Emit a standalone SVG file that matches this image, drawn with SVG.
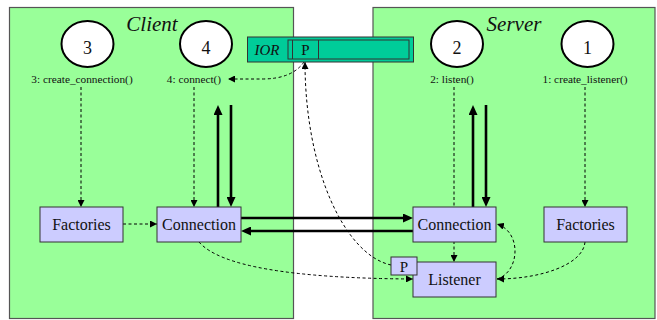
<svg xmlns="http://www.w3.org/2000/svg" width="657" height="320" viewBox="0 0 657 320">
<defs>
<marker id="ad" markerUnits="userSpaceOnUse" markerWidth="8" markerHeight="7" refX="7" refY="3.5" orient="auto"><path d="M0,0 L7,3.5 L0,7 z" fill="#000"/></marker>
<marker id="at" markerUnits="userSpaceOnUse" markerWidth="11" markerHeight="9" refX="4" refY="4.5" orient="auto"><path d="M0,0 L10,4.5 L0,9 z" fill="#000"/></marker>
</defs>
<style>
.panel{fill:#99ff99;stroke:#555;stroke-width:1.2}
.box{fill:#ccccff;stroke:#333;stroke-width:1}
.circ{fill:#fff;stroke:#000;stroke-width:2}
text{font-family:'Liberation Serif','Times New Roman','DejaVu Serif',serif;fill:#111}
.big{font-size:16px}
.num{font-size:18px}
.lab{font-size:11.3px}
.title{font-size:21px;font-style:italic}
.dash{fill:none;stroke:#000;stroke-width:1;stroke-dasharray:3,2.5;marker-end:url(#ad)}
.thick{fill:none;stroke:#000;stroke-width:2.6;marker-end:url(#at)}
</style>
<g id="client-panel"><rect class="panel" x="9.5" y="7.5" width="284" height="311"/><text class="title" font-family="Liberation Serif, serif" x="152" y="31" text-anchor="middle">Client</text></g>
<g id="server-panel"><rect class="panel" x="373" y="7.5" width="282" height="311"/><text class="title" font-family="Liberation Serif, serif" x="514" y="31" text-anchor="middle">Server</text></g>
<g id="connectors">
<path class="dash" d="M81,87 L81,207"/>
<path class="dash" d="M194,87 L194,207"/>
<path class="dash" d="M454,87 L454,262"/>
<path class="dash" d="M585,87 L585,207"/>
<path class="dash" d="M123,224 L157,224"/>
<path class="dash" d="M585,242 C583,265 540,279 497,279"/>
<path class="dash" d="M497,279 C520,272 522,232 497,224"/>
<path class="dash" d="M199,242 Q230,278 413,279"/>
<path class="dash" d="M391,265 C345,255 305,170 305,62"/>
<path class="dash" d="M304,62 Q292,79 262,79 L228,79"/>
<path class="thick" d="M218,207 L218,111"/>
<path class="thick" d="M231,105 L231,201"/>
<path class="thick" d="M473,207 L473,111"/>
<path class="thick" d="M486,105 L486,201"/>
<path class="thick" d="M241,218 L407,218"/>
<path class="thick" d="M413,231 L247,231"/>
</g>
<g id="n3"><ellipse class="circ" cx="87.5" cy="44" rx="26" ry="23"/><text class="num" x="87.5" y="54" text-anchor="middle">3</text><text class="lab" x="82" y="83" text-anchor="middle">3: create_connection()</text></g>
<g id="n4"><ellipse class="circ" cx="206" cy="44" rx="26" ry="23"/><text class="num" x="206" y="54" text-anchor="middle">4</text><text class="lab" x="194" y="83" text-anchor="middle">4: connect()</text></g>
<g id="n2"><ellipse class="circ" cx="457" cy="44" rx="26" ry="23"/><text class="num" x="457" y="54" text-anchor="middle">2</text><text class="lab" x="452" y="83" text-anchor="middle">2: listen()</text></g>
<g id="n1"><ellipse class="circ" cx="587.5" cy="44" rx="26" ry="23"/><text class="num" x="587.5" y="54" text-anchor="middle">1</text><text class="lab" x="585" y="83" text-anchor="middle">1: create_listener()</text></g>
<g id="ior"><rect x="247.5" y="37" width="166" height="25" fill="#00cc99" stroke="#333" stroke-width="1"/><rect x="288" y="40" width="121" height="19" fill="none" stroke="#333" stroke-width="1"/><line x1="292.5" y1="40" x2="292.5" y2="59" stroke="#333"/><line x1="318.5" y1="40" x2="318.5" y2="59" stroke="#333"/><text x="267" y="55" font-size="15" font-style="italic" text-anchor="middle">IOR</text><text x="305.5" y="55" font-size="15" text-anchor="middle">P</text></g>
<g id="client-factories"><rect class="box" x="40" y="207" width="83" height="35"/><text class="big" x="81.5" y="230" text-anchor="middle">Factories</text></g>
<g id="client-connection"><rect class="box" x="157" y="207" width="84" height="35"/><text class="big" x="199" y="230" text-anchor="middle">Connection</text></g>
<g id="server-connection"><rect class="box" x="413" y="207" width="83" height="35"/><text class="big" x="454.5" y="230" text-anchor="middle">Connection</text></g>
<g id="server-factories"><rect class="box" x="544" y="207" width="83" height="35"/><text class="big" x="585.5" y="230" text-anchor="middle">Factories</text></g>
<g id="listener"><rect class="box" x="413" y="262" width="83" height="35"/><text class="big" x="454.5" y="285" text-anchor="middle">Listener</text></g>
<g id="listener-p"><rect class="box" x="391" y="257" width="26" height="18"/><text x="404" y="271.5" font-size="15" text-anchor="middle">P</text></g>
</svg>
